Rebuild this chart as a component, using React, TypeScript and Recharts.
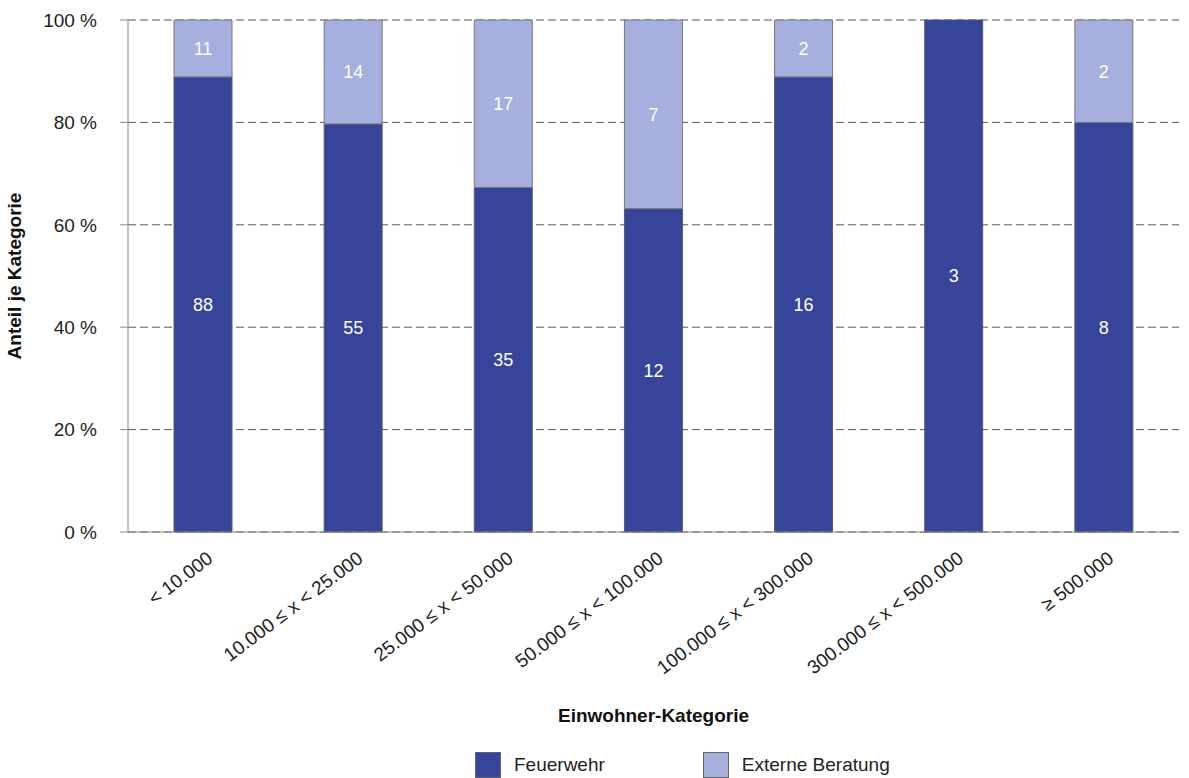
import React from 'react';
import { BarChart, Bar, XAxis, YAxis, CartesianGrid, Legend, LabelList } from 'recharts';

const categories = [
  '< 10.000',
  '10.000 ≤ x < 25.000',
  '25.000 ≤ x < 50.000',
  '50.000 ≤ x < 100.000',
  '100.000 ≤ x < 300.000',
  '300.000 ≤ x < 500.000',
  '≥ 500.000',
];
const feuerwehr = [88, 55, 35, 12, 16, 3, 8];
const externeBeratung = [11, 14, 17, 7, 2, 0, 2];
const yTicks = [0, 0.2, 0.4, 0.6, 0.8, 1];

const data = categories.map((name, i) => ({
  name,
  feuerwehr: feuerwehr[i],
  extern: externeBeratung[i],
}));

const DARK = '#36459a';
const LIGHT = '#a7afde';
const FONT = 'Arial, "Liberation Sans", sans-serif';

const XTick = (props: any) => {
  const { x, y, payload } = props;
  return (
    <g transform={`translate(${x + 11},${y + 29})`}>
      <text textAnchor="end" transform="rotate(-37)" fontSize={19} fill="#222" fontFamily={FONT}>
        {payload.value}
      </text>
    </g>
  );
};

const hideZero = (v: any) => (v === 0 ? '' : v);

const LegendBox = () => (
  <div style={{ display: 'flex', paddingLeft: 475, fontFamily: FONT, fontSize: 19, color: '#222' }}>
    <div style={{ display: 'flex', alignItems: 'center', marginRight: 98 }}>
      <span style={{ width: 24, height: 24, background: DARK, border: '1px solid #666', marginRight: 13 }} />
      Feuerwehr
    </div>
    <div style={{ display: 'flex', alignItems: 'center' }}>
      <span style={{ width: 24, height: 24, background: LIGHT, border: '1px solid #666', marginRight: 13 }} />
      Externe Beratung
    </div>
  </div>
);

export default function App() {
  return (
    <div style={{ position: 'absolute', left: 0, top: 0, background: '#fff' }}>
      <BarChart
        width={1189}
        height={778}
        data={data}
        stackOffset="expand"
        barSize={58}
        margin={{ top: 20, right: 10, left: 0, bottom: 46 }}
      >
        <CartesianGrid vertical={false} stroke="#555" strokeDasharray="8 4" />
        <XAxis
          dataKey="name"
          interval={0}
          height={200}
          tickSize={0}
          tickMargin={0}
          tick={<XTick />}
          axisLine={{ stroke: '#888' }}
          label={{
            value: 'Einwohner-Kategorie',
            position: 'insideBottom',
            offset: 10,
            fontSize: 19,
            fontWeight: 'bold',
            fill: '#111',
            fontFamily: FONT,
          }}
        />
        <YAxis
          width={128}
          ticks={yTicks}
          domain={[0, 1]}
          tickFormatter={(v: number) => `${Math.round(v * 100)} %`}
          tickSize={8}
          tickMargin={23}
          tick={{ fontSize: 19, fill: '#222', fontFamily: FONT }}
          axisLine={{ stroke: '#888' }}
          tickLine={{ stroke: '#888' }}
          label={{
            value: 'Anteil je Kategorie',
            angle: -90,
            position: 'insideLeft',
            offset: 14,
            fontSize: 19,
            fontWeight: 'bold',
            fill: '#111',
            fontFamily: FONT,
            style: { textAnchor: 'middle' },
          }}
        />
        <Legend
          layout="horizontal"
          verticalAlign="middle"
          align="center"
          wrapperStyle={{ top: 752, left: 0, width: 1189 }}
          content={<LegendBox />}
        />
        <Bar dataKey="feuerwehr" stackId="a" fill={DARK} stroke="#5a5a6a" strokeWidth={1} isAnimationActive={false}>
          <LabelList dataKey="feuerwehr" position="center" fill="#fff" fontSize={18} fontFamily={FONT} formatter={hideZero} />
        </Bar>
        <Bar dataKey="extern" stackId="a" fill={LIGHT} stroke="#777" strokeWidth={1} isAnimationActive={false}>
          <LabelList dataKey="extern" position="center" fill="#fff" fontSize={18} fontFamily={FONT} formatter={hideZero} />
        </Bar>
      </BarChart>
    </div>
  );
}
